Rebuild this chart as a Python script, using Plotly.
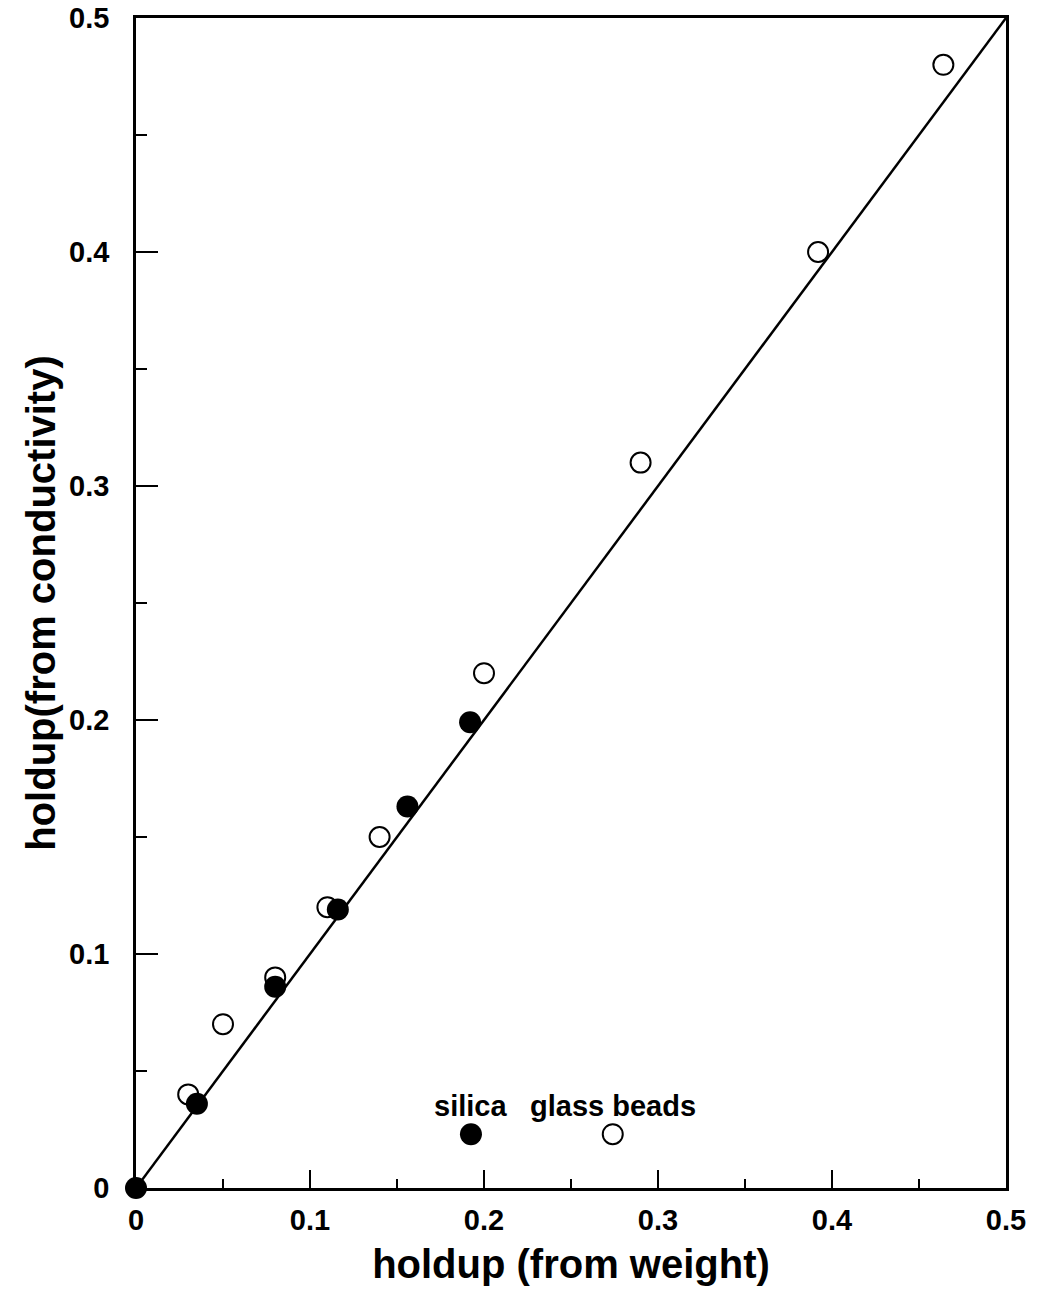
import plotly.graph_objects as go

# data
glass_x = [0.030, 0.050, 0.080, 0.110, 0.140, 0.200, 0.290, 0.392, 0.464]
glass_y = [0.040, 0.070, 0.090, 0.120, 0.150, 0.220, 0.310, 0.400, 0.480]
silica_x = [0.000, 0.035, 0.080, 0.116, 0.156, 0.192]
silica_y = [0.000, 0.036, 0.086, 0.119, 0.163, 0.199]
line_x = [0.0, 0.5]
line_y = [0.0, 0.5]
legend_silica = (0.1925, 0.023)
legend_glass = (0.274, 0.023)
tick_vals = [0, 0.1, 0.2, 0.3, 0.4, 0.5]
tick_text = ["0", "0.1", "0.2", "0.3", "0.4", "0.5"]

FONT = "Liberation Sans"

fig = go.Figure()
fig.add_trace(go.Scatter(x=line_x, y=line_y, mode="lines",
                         line=dict(color="black", width=2.5), showlegend=False, cliponaxis=False))
fig.add_trace(go.Scatter(x=glass_x, y=glass_y, mode="markers",
                         marker=dict(symbol="circle-open", size=20, color="black", line=dict(width=2)),
                         showlegend=False, cliponaxis=False))
fig.add_trace(go.Scatter(x=silica_x, y=silica_y, mode="markers",
                         marker=dict(symbol="circle", size=22, color="black"),
                         showlegend=False, cliponaxis=False))
fig.add_trace(go.Scatter(x=[legend_silica[0]], y=[legend_silica[1]], mode="markers",
                         marker=dict(symbol="circle", size=22, color="black"), showlegend=False))
fig.add_trace(go.Scatter(x=[legend_glass[0]], y=[legend_glass[1]], mode="markers",
                         marker=dict(symbol="circle-open", size=20, color="black", line=dict(width=2)),
                         showlegend=False))

fig.add_annotation(x=legend_silica[0], y=legend_silica[1], text="<b>silica</b>", showarrow=False,
                   yshift=28, font=dict(family=FONT, size=29, color="black"))
fig.add_annotation(x=legend_glass[0], y=legend_glass[1], text="<b>glass beads</b>", showarrow=False,
                   yshift=28, font=dict(family=FONT, size=29, color="black"))

def axis(ticklen, minorlen, standoff_lbl, title, title_standoff):
    return dict(
        range=[0, 0.5], tickvals=tick_vals, ticktext=tick_text,
        ticks="inside", ticklen=ticklen, tickwidth=1.5, tickcolor="black",
        showline=True, linecolor="black", linewidth=2.5, mirror=True,
        showgrid=False, zeroline=False, automargin=False,
        ticklabelstandoff=standoff_lbl,
        tickfont=dict(family=FONT, size=29, color="black", weight="bold"),
        minor=dict(dtick=0.05, tick0=0, ticks="inside", ticklen=minorlen, tickwidth=1.5,
                   tickcolor="black", showgrid=False),
        title=dict(text=title, standoff=title_standoff,
                   font=dict(family=FONT, size=40, color="black", weight="bold")),
    )

fig.update_layout(
    width=1038, height=1301,
    margin=dict(l=136, r=32, t=18, b=113),
    paper_bgcolor="white", plot_bgcolor="white",
    xaxis=axis(18, 9, 4, "holdup (from weight)", 16),
    yaxis=axis(22, 11, 18, "holdup(from conductivity)", 2),
)

fig.write_html("out.html")
